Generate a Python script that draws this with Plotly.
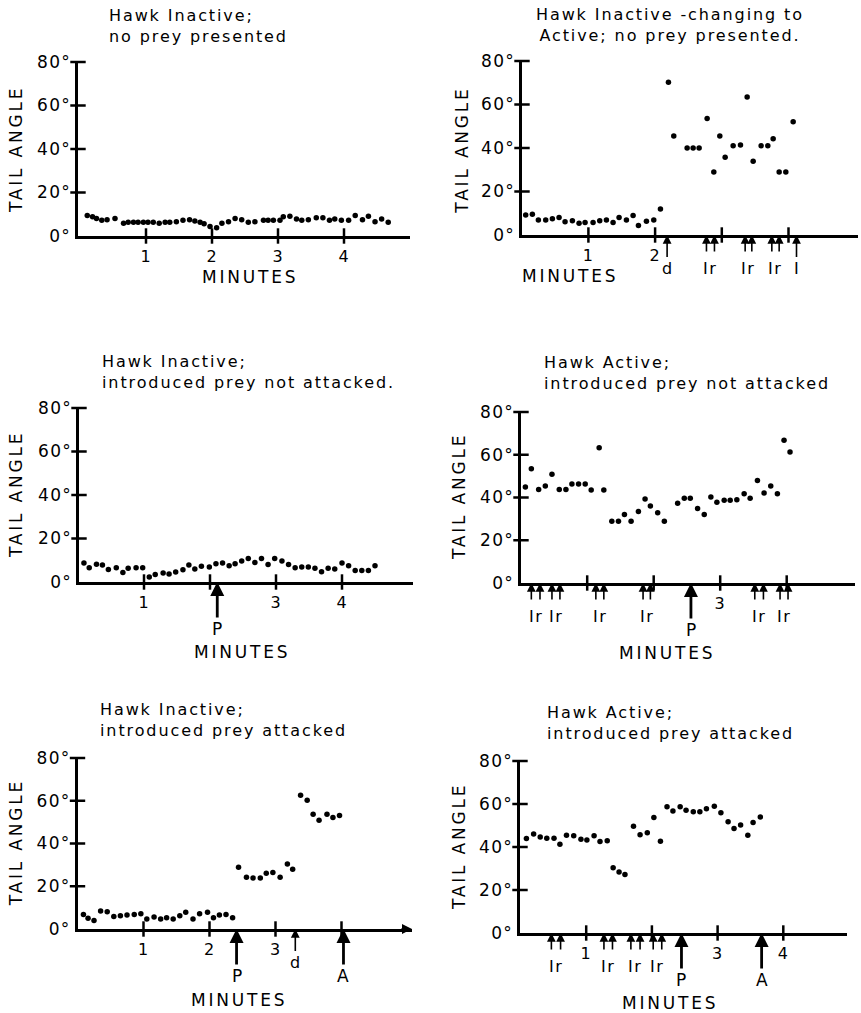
import plotly.graph_objects as go

W, H = 861, 1013
FONT = "DejaVu Sans"

# ---------------- data (minutes, tail angle in degrees) ----------------
p1_t = [0.11,0.19,0.25,0.33,0.41,0.53,0.66,0.73,0.81,0.88,0.96,1.03,1.11,1.20,1.29,1.36,1.46,1.56,1.66,1.74,
        1.82,1.88,1.97,2.07,2.15,2.25,2.35,2.45,2.55,2.65,2.78,2.85,2.93,3.03,3.08,3.18,3.28,3.36,3.46,3.58,
        3.68,3.78,3.86,3.96,4.07,4.17,4.28,4.37,4.47,4.57,4.67]
p1_a = [9.4,8.8,8.1,7.2,7.5,8.1,5.9,6.3,6.3,6.3,6.3,6.3,6.3,5.9,6.3,6.3,6.6,7.2,7.5,6.9,
        6.3,5.6,4.4,3.8,5.9,6.6,8.1,7.5,6.3,6.6,7.2,7.2,7.2,7.2,8.8,9.1,7.8,7.2,7.5,8.4,
        8.4,7.2,7.8,7.2,7.2,9.4,7.5,9.1,6.6,7.8,6.3]

p2_t = [0.06,0.16,0.25,0.36,0.46,0.56,0.65,0.76,0.86,0.95,1.07,1.17,1.27,1.37,1.46,1.57,1.67,1.75,1.87,1.98,
        2.08,2.20,2.28,2.48,2.57,2.66,2.78,2.88,2.97,3.05,3.17,3.28,3.38,3.47,3.59,3.69,3.77,3.86,3.96,4.07]
p2_a = [9.2,9.5,6.9,6.9,7.5,8.0,6.1,6.6,5.4,5.8,5.8,6.6,6.9,5.7,8.1,6.9,9.0,4.4,6.3,6.9,
        12.0,70.2,45.5,40.0,40.0,40.0,53.6,29.0,45.5,35.7,41.0,41.4,63.4,33.9,41.0,41.0,44.3,29.0,29.0,52.1]

p3_t = [0.09,0.17,0.28,0.37,0.46,0.58,0.68,0.76,0.88,0.98,1.08,1.17,1.29,1.38,1.48,1.59,1.68,1.77,1.87,1.99,
        2.09,2.19,2.29,2.38,2.48,2.58,2.68,2.78,2.88,2.98,3.09,3.19,3.29,3.39,3.49,3.59,3.69,3.79,3.89,4.00,
        4.10,4.20,4.30,4.40,4.50]
p3_a = [8.7,6.6,8.2,7.8,5.8,6.6,4.4,6.3,6.6,6.6,2.3,3.4,4.1,3.7,4.6,5.6,7.8,6.0,7.2,6.9,
        8.4,8.7,7.5,8.4,9.6,10.8,9.0,10.8,8.1,10.8,9.6,8.1,6.6,6.9,6.9,6.3,4.7,6.3,6.0,8.7,
        7.5,5.3,5.3,5.3,7.5]

p4_t = [0.07,0.16,0.27,0.37,0.47,0.58,0.68,0.77,0.87,0.97,1.06,1.18,1.25,1.37,1.47,1.56,1.66,1.77,1.87,1.95,
        2.06,2.16,2.36,2.46,2.55,2.66,2.76,2.86,2.95,3.06,3.15,3.25,3.36,3.45,3.56,3.66,3.76,3.86,3.96,4.05]
p4_a = [44.9,53.5,43.8,45.4,50.9,43.8,43.8,46.3,46.3,46.3,43.5,63.3,43.5,28.9,28.9,32.0,28.9,33.5,39.3,36.0,
        32.9,28.9,37.3,39.6,39.6,34.8,32.1,40.2,37.8,38.7,38.7,39.0,41.8,39.6,48.0,42.1,45.4,41.8,66.8,61.3]

p5_t = [0.09,0.16,0.25,0.35,0.45,0.55,0.65,0.75,0.86,0.96,1.05,1.16,1.26,1.35,1.45,1.55,1.64,1.75,1.85,1.97,
        2.06,2.15,2.25,2.35,2.44,2.56,2.66,2.77,2.86,2.96,3.07,3.18,3.26,3.38,3.48,3.57,3.66,3.78,3.87,3.97]
p5_a = [6.8,5.0,4.0,8.4,8.1,5.9,6.2,6.5,6.8,7.1,4.7,5.6,4.7,5.3,4.7,6.2,7.8,4.7,7.1,7.8,
        5.3,6.5,6.8,5.3,28.9,24.2,23.9,23.9,26.1,26.4,24.2,30.4,28.0,62.6,60.2,53.7,50.9,53.7,52.2,53.1]

p6_t = [0.09,0.20,0.30,0.40,0.51,0.60,0.70,0.81,0.92,1.01,1.12,1.21,1.32,1.41,1.50,1.59,1.72,1.82,1.93,2.03,
        2.13,2.23,2.32,2.43,2.52,2.63,2.73,2.83,2.95,3.05,3.16,3.25,3.35,3.46,3.54,3.65]
p6_a = [43.9,46.0,44.7,44.1,44.1,41.3,45.5,45.2,43.6,43.2,45.2,42.5,42.9,30.4,28.4,27.2,49.7,45.7,46.6,53.7,
        42.7,58.7,56.8,58.7,57.1,56.4,56.4,57.8,59.0,55.9,51.7,48.6,50.2,45.5,51.4,54.0]

# event markers (minutes)
p2_ir_pairs = [[2.77, 2.89], [3.35, 3.45], [3.75, 3.86]]
p2_small = [["d", 2.18], ["I", 4.12]]
p3_big = [["P", 2.11]]
p4_ir_pairs = [[0.16, 0.29], [0.47, 0.59], [1.13, 1.25], [1.84, 1.95], [3.52, 3.65], [3.90, 4.02]]
p4_big = [["P", 2.56]]
p5_small = [["d", 3.30]]
p5_big = [["P", 2.41], ["A", 4.03]]
p6_ir_pairs = [[0.47, 0.61], [1.27, 1.40], [1.68, 1.82], [2.02, 2.15]]
p6_big = [["P", 2.45], ["A", 3.67]]

# tick labels
x_tickvals = [1, 2, 3, 4]
y_tickvals = [0, 20, 40, 60, 80]
y_ticktext = ["0°", "20°", "40°", "60°", "80°"]
p1_xtext = ["1", "2", "3", "4"]
p2_xtext = ["1", "2", "", ""]
p3_xtext = ["1", "", "3", "4"]
p4_xtext = ["", "", "3", ""]
p5_xtext = ["1", "2", "3", ""]
p6_xtext = ["1", "", "3", "4"]

titles = [
    ["Hawk Inactive;", "no prey presented"],
    ["Hawk Inactive -changing to", "Active; no prey presented."],
    ["Hawk Inactive;", "introduced prey not attacked."],
    ["Hawk Active;", "introduced prey not attacked"],
    ["Hawk Inactive;", "introduced prey attacked"],
    ["Hawk Active;", "introduced prey attacked"],
]

# ---------------- layout geometry (pixels) ----------------
panels = [
    dict(t=p1_t, a=p1_a, xtext=p1_xtext, left=78, x0=80, ppm=66, right=410, bottom=236, top=62,
         title_xy=(106.7, 25.8), title_center=False, minutes=(250, 277), tail=(16, 150),
         pairs=[], small=[], big=[], endarrow=False),
    dict(t=p2_t, a=p2_a, xtext=p2_xtext, left=522, x0=521.7, ppm=66.7, right=858, bottom=235, top=61,
         title_xy=(670, 25), title_center=True, minutes=(570, 276), tail=(461.7, 150),
         pairs=p2_ir_pairs, small=p2_small, big=[], endarrow=False),
    dict(t=p3_t, a=p3_a, xtext=p3_xtext, left=79, x0=78, ppm=66, right=413, bottom=582, top=408,
         title_xy=(100, 371.7), title_center=False, minutes=(241.7, 651.7), tail=(16, 495),
         pairs=[], small=[], big=p3_big, endarrow=False),
    dict(t=p4_t, a=p4_a, xtext=p4_xtext, left=521, x0=520.7, ppm=66.5, right=855, bottom=583, top=412,
         title_xy=(541.7, 372.7), title_center=False, minutes=(666.7, 653.3), tail=(458.3, 496.7),
         pairs=p4_ir_pairs, small=[], big=p4_big, endarrow=False),
    dict(t=p5_t, a=p5_a, xtext=p5_xtext, left=77.5, x0=77.5, ppm=66, right=412, bottom=929, top=758,
         title_xy=(98.3, 720.3), title_center=False, minutes=(239.3, 1000), tail=(16, 843.3),
         pairs=[], small=p5_small, big=p5_big, endarrow=True),
    dict(t=p6_t, a=p6_a, xtext=p6_xtext, left=520, x0=520.5, ppm=65.7, right=847, bottom=933, top=761,
         title_xy=(545, 722.5), title_center=False, minutes=(670, 1003.3), tail=(458.3, 846.7),
         pairs=p6_ir_pairs, small=[], big=p6_big, endarrow=False),
]


def ls(s, sp):
    return f'<span style="letter-spacing:{sp}px">{s}</span>'


def fx(px):
    return min(1.0, max(0.0, px / W))


def fy(py):
    return min(1.0, max(0.0, 1 - py / H))


fig = go.Figure()
layout = dict(width=W, height=H, margin=dict(l=0, r=0, t=0, b=0, autoexpand=False),
              paper_bgcolor="white", plot_bgcolor="white", showlegend=False,
              font=dict(family=FONT, color="black"))
annotations = []

for i, p in enumerate(panels, start=1):
    xa = "x" if i == 1 else f"x{i}"
    ya = "y" if i == 1 else f"y{i}"
    xr = [(p["left"] - p["x0"]) / p["ppm"], (p["right"] - p["x0"]) / p["ppm"]]
    layout["xaxis" if i == 1 else f"xaxis{i}"] = dict(
        domain=[fx(p["left"]), fx(p["right"])], range=xr, anchor=ya, automargin=False,
        showline=True, linewidth=2.5, linecolor="black", showgrid=False, zeroline=False,
        tickvals=x_tickvals, ticktext=[ls(s, 1) for s in p["xtext"]], ticks="",
        tickfont=dict(family=FONT, size=16, color="black"), ticklabelstandoff=4, fixedrange=True)
    layout["yaxis" if i == 1 else f"yaxis{i}"] = dict(
        domain=[fy(p["bottom"]), fy(p["top"])], range=[0, 80], anchor=xa, automargin=False,
        showline=True, linewidth=2.5, linecolor="black", showgrid=False, zeroline=False,
        tickvals=y_tickvals, ticktext=[ls(s, 1.2) for s in y_ticktext], ticks="",
        tickfont=dict(family=FONT, size=17, color="black"), ticklabelstandoff=1, fixedrange=True)

    # crossing tick marks
    fig.add_trace(go.Scatter(x=x_tickvals, y=[0] * len(x_tickvals), xaxis=xa, yaxis=ya, mode="markers",
                             marker=dict(symbol="line-ns", size=11, line=dict(width=2.5, color="black")),
                             cliponaxis=False, hoverinfo="skip"))
    fig.add_trace(go.Scatter(x=[xr[0]] * 4, y=y_tickvals[1:], xaxis=xa, yaxis=ya, mode="markers",
                             marker=dict(symbol="line-ew", size=11, line=dict(width=2.5, color="black")),
                             cliponaxis=False, hoverinfo="skip"))
    # data points
    fig.add_trace(go.Scatter(x=p["t"], y=p["a"], xaxis=xa, yaxis=ya, mode="markers",
                             marker=dict(size=5.5, color="black"), cliponaxis=False))

    # titles
    tx, ty = p["title_xy"]
    annotations.append(dict(
        xref="paper", yref="paper", x=fx(tx), y=fy(ty),
        xanchor="center" if p["title_center"] else "left", yanchor="middle",
        align="center" if p["title_center"] else "left", showarrow=False,
        text="<br>".join(ls(s, 1.9) for s in titles[i - 1]),
        font=dict(family=FONT, size=16, color="black")))
    mx, my = p["minutes"]
    annotations.append(dict(xref="paper", yref="paper", x=fx(mx), y=fy(my), xanchor="center",
                            yanchor="middle", showarrow=False, text=ls("MINUTES", 2.8),
                            font=dict(family=FONT, size=17, color="black")))
    ax_, ay_ = p["tail"]
    annotations.append(dict(xref="paper", yref="paper", x=fx(ax_), y=fy(ay_), xanchor="center",
                            yanchor="middle", showarrow=False, textangle=-90, text=ls("TAIL ANGLE", 2.8),
                            font=dict(family=FONT, size=17, color="black")))

    # Ir double arrows
    for pair in p["pairs"]:
        for t in pair:
            annotations.append(dict(xref=xa, yref=ya, x=t, y=0, ax=0, ay=18, text="", showarrow=True,
                                    arrowhead=2, arrowsize=1.1, arrowwidth=1.6, arrowcolor="black",
                                    standoff=0))
        annotations.append(dict(xref=xa, yref=ya, x=sum(pair) / 2, y=0, yshift=-33, showarrow=False,
                                text=ls("Ir", 1.5), font=dict(family=FONT, size=16, color="black")))
    for lab, t in p["small"]:
        annotations.append(dict(xref=xa, yref=ya, x=t, y=0, ax=0, ay=33, text=ls(lab, 0),
                                showarrow=True, arrowhead=2, arrowsize=1.1, arrowwidth=1.6,
                                arrowcolor="black", standoff=0,
                                font=dict(family=FONT, size=16, color="black")))
    for lab, t in p["big"]:
        annotations.append(dict(xref=xa, yref=ya, x=t, y=0, ax=0, ay=47, text=ls(lab, 0),
                                showarrow=True, arrowhead=2, arrowsize=1.0, arrowwidth=2.8,
                                arrowcolor="black", standoff=0,
                                font=dict(family=FONT, size=17, color="black")))
    if p["endarrow"]:
        annotations.append(dict(xref=xa, yref=ya, x=xr[1], y=0, ax=-12, ay=0, text="", showarrow=True,
                                arrowhead=2, arrowsize=1, arrowwidth=2, arrowcolor="black", standoff=0))

layout["annotations"] = annotations
fig.update_layout(**layout)
fig.write_html("out.html", config={"displayModeBar": False},
               post_script="document.body.style.margin='0px';"
                           "document.documentElement.style.overflow='hidden';")
